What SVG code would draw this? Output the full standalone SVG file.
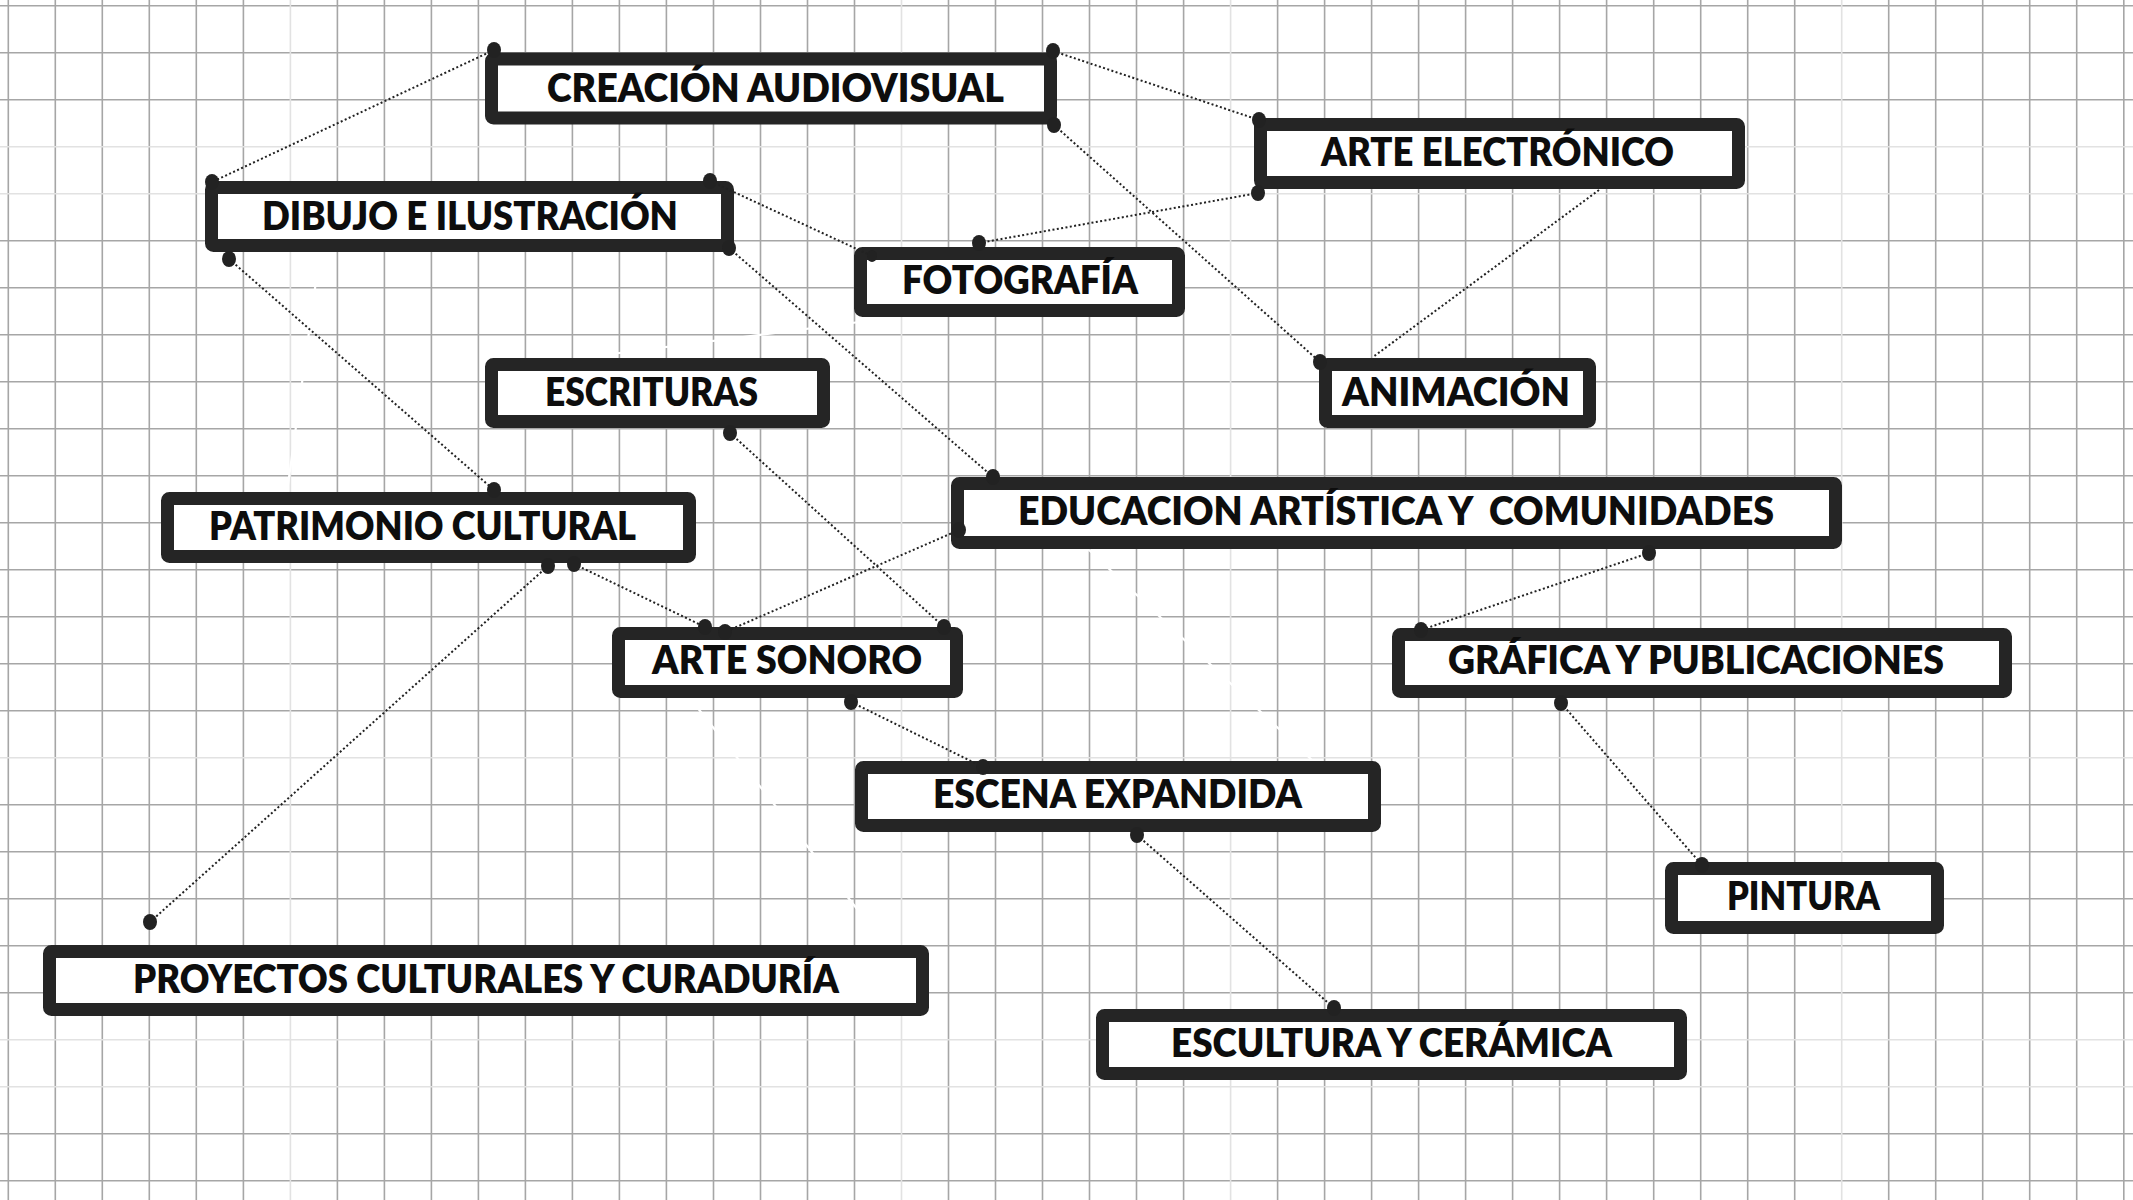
<svg xmlns="http://www.w3.org/2000/svg" width="2133" height="1200" viewBox="0 0 2133 1200">
<style>
.grid{stroke:#a6a6a6;stroke-width:1.6;fill:none}
.gridl{stroke:#e2e2e2;stroke-width:1.6;fill:none}
.box{fill:#ffffff;stroke:#252525;stroke-width:13;stroke-linejoin:round}
.lbl{font-family:Lato,"Open Sans","Liberation Sans",sans-serif;font-weight:800;font-size:39px;fill:#0d0d0d}
.con{stroke:#222222;stroke-width:2;stroke-dasharray:2 2.4;fill:none}
.ghost{stroke:#ffffff;stroke-width:2.2;fill:none}
.dot{fill:#222222}
</style>
<rect x="0" y="0" width="2133" height="1200" fill="#ffffff"/>
<g id="grid">
<path class="grid" d="M8.3 0V1200M55.3 0V1200M102.3 0V1200M149.3 0V1200M196.3 0V1200M243.4 0V1200M337.4 0V1200M384.4 0V1200M431.4 0V1200M478.4 0V1200M525.4 0V1200M572.4 0V1200M619.4 0V1200M666.4 0V1200M713.5 0V1200M760.5 0V1200M807.5 0V1200M854.5 0V1200M948.5 0V1200M995.5 0V1200M1042.5 0V1200M1089.5 0V1200M1136.5 0V1200M1183.6 0V1200M1277.6 0V1200M1324.6 0V1200M1371.6 0V1200M1418.6 0V1200M1465.6 0V1200M1512.6 0V1200M1559.6 0V1200M1606.6 0V1200M1653.7 0V1200M1700.7 0V1200M1747.7 0V1200M1794.7 0V1200M1888.7 0V1200M1935.7 0V1200M1982.7 0V1200M2029.7 0V1200M2076.7 0V1200M2123.8 0V1200"/>
<path class="grid" d="M0 5.7H2133M0 52.7H2133M0 99.7H2133M0 240.7H2133M0 287.7H2133M0 334.7H2133M0 381.7H2133M0 428.7H2133M0 475.7H2133M0 522.7H2133M0 569.7H2133M0 616.7H2133M0 663.7H2133M0 710.7H2133M0 804.7H2133M0 851.7H2133M0 898.7H2133M0 945.7H2133M0 992.7H2133M0 1133.7H2133M0 1180.7H2133"/>
<path class="gridl" d="M290.4 0V1200M901.5 0V1200M1230.6 0V1200M1841.7 0V1200M0 146.7H2133M0 193.7H2133M0 757.7H2133M0 1039.7H2133M0 1086.7H2133"/>
</g>
<g id="ghost-lines">
<path class="ghost" d="M320 252L287 492M565 360L875 320M689 697L888 948M1088 549L1314 762"/>
</g>
<g id="node-creacion"><rect class="box" x="491.5" y="59" width="559" height="59" rx="2"/><text class="lbl" x="547" y="101.5" textLength="457" lengthAdjust="spacingAndGlyphs">CREACIÓN AUDIOVISUAL</text></g>
<g id="node-arte-electronico"><rect class="box" x="1260.5" y="124.5" width="478" height="58" rx="2"/><text class="lbl" x="1321" y="166" textLength="353" lengthAdjust="spacingAndGlyphs">ARTE ELECTRÓNICO</text></g>
<g id="node-dibujo"><rect class="box" x="211.5" y="187.5" width="516" height="58" rx="2"/><text class="lbl" x="262" y="230" textLength="416" lengthAdjust="spacingAndGlyphs">DIBUJO E ILUSTRACIÓN</text></g>
<g id="node-fotografia"><rect class="box" x="860.5" y="253.5" width="318" height="57" rx="2"/><text class="lbl" x="902" y="294" textLength="236" lengthAdjust="spacingAndGlyphs">FOTOGRAFÍA</text></g>
<g id="node-escrituras"><rect class="box" x="491.5" y="364.5" width="332" height="57" rx="2"/><text class="lbl" x="545" y="406" textLength="213" lengthAdjust="spacingAndGlyphs">ESCRITURAS</text></g>
<g id="node-animacion"><rect class="box" x="1325.5" y="364.5" width="264" height="57" rx="2"/><text class="lbl" x="1342" y="406" textLength="228" lengthAdjust="spacingAndGlyphs">ANIMACIÓN</text></g>
<g id="node-patrimonio"><rect class="box" x="167.5" y="498.5" width="522" height="58" rx="2"/><text class="lbl" x="209" y="540" textLength="427" lengthAdjust="spacingAndGlyphs">PATRIMONIO CULTURAL</text></g>
<g id="node-educacion"><rect class="box" x="957.5" y="483.5" width="878" height="59" rx="2"/><text class="lbl" x="1018" y="525" textLength="756" lengthAdjust="spacingAndGlyphs" xml:space="preserve">EDUCACION ARTÍSTICA Y  COMUNIDADES</text></g>
<g id="node-arte-sonoro"><rect class="box" x="618.5" y="633.5" width="338" height="58" rx="2"/><text class="lbl" x="652" y="674" textLength="270" lengthAdjust="spacingAndGlyphs">ARTE SONORO</text></g>
<g id="node-grafica"><rect class="box" x="1398.5" y="634.5" width="607" height="57" rx="2"/><text class="lbl" x="1448" y="674" textLength="496" lengthAdjust="spacingAndGlyphs">GRÁFICA Y PUBLICACIONES</text></g>
<g id="node-escena"><rect class="box" x="861.5" y="767.5" width="513" height="58" rx="2"/><text class="lbl" x="933" y="808" textLength="369" lengthAdjust="spacingAndGlyphs">ESCENA EXPANDIDA</text></g>
<g id="node-pintura"><rect class="box" x="1671.5" y="868.5" width="266" height="59" rx="2"/><text class="lbl" x="1727" y="910" textLength="153" lengthAdjust="spacingAndGlyphs">PINTURA</text></g>
<g id="node-proyectos"><rect class="box" x="49.5" y="951.5" width="873" height="58" rx="2"/><text class="lbl" x="133" y="993" textLength="706" lengthAdjust="spacingAndGlyphs">PROYECTOS CULTURALES Y CURADURÍA</text></g>
<g id="node-escultura"><rect class="box" x="1102.5" y="1015.5" width="578" height="58" rx="2"/><text class="lbl" x="1171" y="1057" textLength="441" lengthAdjust="spacingAndGlyphs">ESCULTURA Y CERÁMICA</text></g>
<g id="connectors">
<path class="con" d="M494 50L212 182M1053 51L1259 120M1054 125L1320 362M1258 193L979 243M1599 190L1373 357M710 181L872 256M729 248L993 477M229 259L494 490M730 433L944 627M574 564L705 627M548 566L150 922M959 530L725 632M1649 553L1421 630M851 702L983 767M1561 703L1702 865M1137 835L1334 1008"/>
<ellipse class="dot" cx="494" cy="50" rx="7" ry="8"/>
<ellipse class="dot" cx="1053" cy="51" rx="7" ry="8"/>
<ellipse class="dot" cx="1054" cy="125" rx="7" ry="8"/>
<ellipse class="dot" cx="1259" cy="120" rx="7" ry="8"/>
<ellipse class="dot" cx="1258" cy="193" rx="7" ry="8"/>
<ellipse class="dot" cx="212" cy="182" rx="7" ry="8"/>
<ellipse class="dot" cx="710" cy="181" rx="7" ry="8"/>
<ellipse class="dot" cx="729" cy="248" rx="7" ry="8"/>
<ellipse class="dot" cx="229" cy="259" rx="7" ry="8"/>
<ellipse class="dot" cx="872" cy="256" rx="5" ry="6"/>
<ellipse class="dot" cx="979" cy="243" rx="7" ry="8"/>
<ellipse class="dot" cx="1320" cy="362" rx="7" ry="8"/>
<ellipse class="dot" cx="730" cy="433" rx="7" ry="8"/>
<ellipse class="dot" cx="494" cy="490" rx="7" ry="8"/>
<ellipse class="dot" cx="548" cy="566" rx="7" ry="8"/>
<ellipse class="dot" cx="574" cy="564" rx="7" ry="8"/>
<ellipse class="dot" cx="993" cy="477" rx="7" ry="8"/>
<ellipse class="dot" cx="959" cy="530" rx="7" ry="8"/>
<ellipse class="dot" cx="1649" cy="553" rx="7" ry="8"/>
<ellipse class="dot" cx="705" cy="627" rx="7" ry="8"/>
<ellipse class="dot" cx="725" cy="632" rx="7" ry="8"/>
<ellipse class="dot" cx="944" cy="627" rx="7" ry="8"/>
<ellipse class="dot" cx="851" cy="702" rx="7" ry="8"/>
<ellipse class="dot" cx="1421" cy="630" rx="7" ry="8"/>
<ellipse class="dot" cx="1561" cy="703" rx="7" ry="8"/>
<ellipse class="dot" cx="983" cy="767" rx="7" ry="8"/>
<ellipse class="dot" cx="1137" cy="835" rx="7" ry="8"/>
<ellipse class="dot" cx="1702" cy="865" rx="7" ry="8"/>
<ellipse class="dot" cx="1334" cy="1008" rx="7" ry="8"/>
<ellipse class="dot" cx="150" cy="922" rx="7" ry="8"/>
</g>
</svg>
